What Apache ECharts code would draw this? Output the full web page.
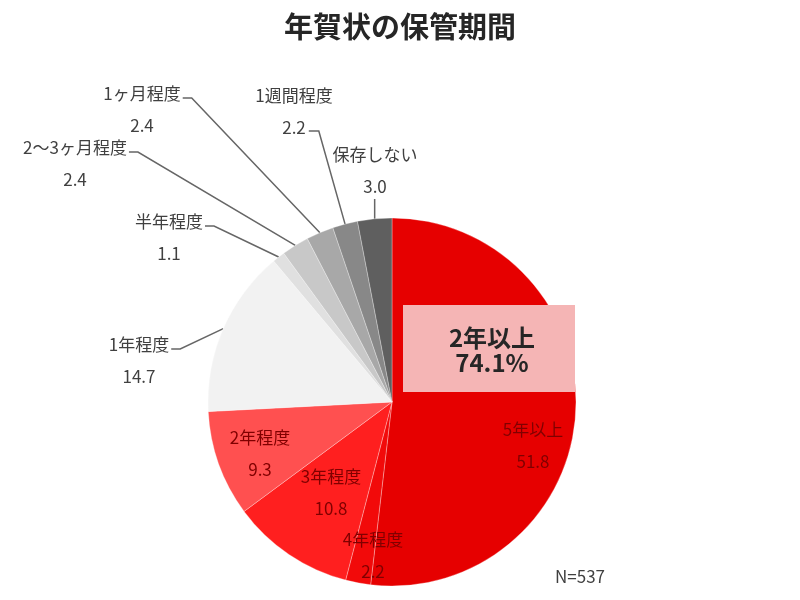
<!DOCTYPE html>
<html lang="ja">
<head>
<meta charset="UTF-8">
<title>年賀状の保管期間</title>
<script src="https://cdn.jsdelivr.net/npm/echarts@6/dist/echarts.min.js"></script>
</head>
<body style="margin:0;background:#fff;">
<div id="main" style="width:800px;height:600px;"></div>
<script type="text/javascript">
// data (%)
var names = ['5年以上', '4年程度', '3年程度', '2年程度', '1年程度', '半年程度', '2～3ヶ月程度', '1ヶ月程度', '1週間程度', '保存しない'];
var values = [51.8, 2.2, 10.8, 9.3, 14.7, 1.1, 2.4, 2.4, 2.2, 3.0];
var sliceColors = ['#e60000', '#f20a0a', '#ff1f1f', '#ff5050', '#f2f2f2', '#e0e0e0', '#c8c8c8', '#a8a8a8', '#888888', '#5f5f5f'];
var redCount = 4;          // 2年以上 = first four slices
var sampleN = 537;

// label centre (name line) for each slice, and where its leader line attaches
var labelPos = [[533, 430], [373, 540], [331, 477], [260, 438], [139, 345], [169, 222], [75, 148], [142, 94], [294, 96], [375, 155]];
var lineAttach = [null, null, null, null, 'name', 'name', 'name', 'name', 'value', 'bottom'];
var rowGap = 32;
var FONT = '"Noto Sans CJK JP", "Noto Sans", sans-serif';

var ctx = document.createElement('canvas').getContext('2d');
ctx.font = '17px ' + FONT;
function textW(s) { return ctx.measureText(s).width; }

var over2 = 0;
for (var k = 0; k < redCount; k++) over2 += values[k];

var pieData = names.map(function (n, i) {
    var inside = i < redCount;
    return {
        name: n,
        value: values[i],
        itemStyle: {color: sliceColors[i]},
        label: {
            position: inside ? 'inside' : 'outside',
            rich: {
                n: {fontSize: 17, lineHeight: rowGap, color: inside ? '#800000' : '#404040', fontFamily: FONT},
                v: {fontSize: 17, lineHeight: rowGap, color: inside ? '#800000' : '#404040', fontFamily: FONT}
            }
        },
        labelLine: {show: !inside}
    };
});

var chart = echarts.init(document.getElementById('main'));
var option = {
    backgroundColor: '#fff',
    animation: false,
    title: {
        text: '年賀状の保管期間',
        left: 'center',
        top: 7,
        textStyle: {fontSize: 29, fontWeight: 'bold', color: '#262626', fontFamily: FONT}
    },
    graphic: [{
        type: 'rect',
        z: 100,
        shape: {x: 403, y: 305, width: 172, height: 87},
        style: {fill: '#f5b5b5'}
    }, {
        type: 'text',
        z: 101,
        x: 492, y: 350,
        style: {
            text: '2年以上\n' + over2.toFixed(1) + '%',
            fill: '#262626',
            font: 'bold 24px ' + FONT,
            align: 'center',
            verticalAlign: 'middle',
            lineHeight: 25
        }
    }, {
        type: 'text',
        x: 555, y: 577,
        style: {text: 'N=' + sampleN, fill: '#404040', font: '17px ' + FONT, verticalAlign: 'middle'}
    }],
    series: [{
        type: 'pie',
        center: [392, 402],
        radius: ['0%', 184],
        startAngle: 90,
        clockwise: true,
        avoidLabelOverlap: false,
        itemStyle: {borderColor: 'rgba(255,255,255,0.6)', borderWidth: 0.5},
        label: {
            formatter: function (p) { return '{n|' + p.name + '}\n{v|' + p.value.toFixed(1) + '}'; }
        },
        labelLine: {lineStyle: {color: '#666666', width: 1.5}},
        emphasis: {disabled: true},
        labelLayout: function (params) {
            var i = params.dataIndex;
            var p = labelPos[i];
            var res = {x: p[0], y: p[1] - rowGap / 2, align: 'center', verticalAlign: 'top'};
            var mode = lineAttach[i];
            var pts = params.labelLinePoints;
            if (mode && pts) {
                var a = pts[0];
                var yl, xr;
                if (mode === 'name') {
                    xr = p[0] + textW(names[i]) / 2;
                    yl = p[1] + 4;
                    res.labelLinePoints = [a, [xr + 11, yl], [xr + 2, yl]];
                } else if (mode === 'value') {
                    xr = p[0] + textW(values[i].toFixed(1)) / 2;
                    yl = p[1] + rowGap + 3;
                    res.labelLinePoints = [a, [xr + 13, yl], [xr + 3, yl]];
                } else {
                    yl = p[1] + rowGap + 12;
                    res.labelLinePoints = [a, [a[0], yl], [a[0], yl]];
                }
            }
            return res;
        },
        data: pieData
    }]
};
chart.setOption(option);
</script>
</body>
</html>
